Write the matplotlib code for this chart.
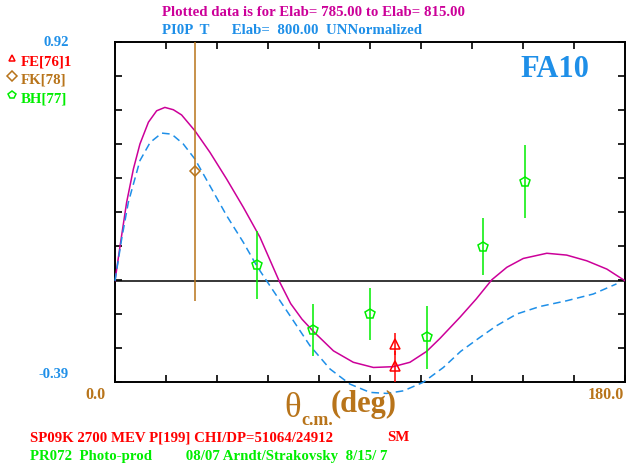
import numpy as np
import matplotlib
matplotlib.use("Agg")
import matplotlib.pyplot as plt

# ------------------------------------------
# Data
# ------------------------------------------
YMIN, YMAX = -0.39, 0.92

# SM solution (solid magenta)
sm_theta = [0, 1.8, 4.1, 6.5, 8.8, 11.8, 14.7, 17.6, 20.6, 23.5, 28.2, 33.5, 39.4,
            45.3, 51.2, 57.9, 62.0, 66.0, 70.0, 77.1, 84.1, 91.2, 98.2, 104.1, 110.0,
            114.7, 121.8, 127.5, 133.0, 138.3, 144.1, 152.4, 159.4, 166.5, 173.6, 180.0]
sm_val = [0.0, 0.135, 0.302, 0.431, 0.527, 0.611, 0.655, 0.668, 0.659, 0.639, 0.578,
          0.495, 0.392, 0.283, 0.167, 0.0, -0.088, -0.148, -0.195, -0.270, -0.314,
          -0.334, -0.331, -0.314, -0.272, -0.222, -0.14, -0.07, 0.004, 0.052, 0.086,
          0.106, 0.099, 0.077, 0.045, 0.0]

# dashed blue solution
sp_theta = [0, 2.35, 4.7, 8.8, 12.4, 16.5, 20.0, 24.1, 28.2, 33.5, 39.4, 45.3, 50.0,
            53.5, 61.8, 68.8, 75.9, 82.9, 90.0, 95.9, 101.8, 108.8, 115.9, 122.0,
            128.8, 134.7, 141.8, 150.0, 159.4, 168.8, 177.0]
sp_val = [0.0, 0.161, 0.302, 0.463, 0.533, 0.569, 0.565, 0.527, 0.469, 0.366, 0.251,
          0.148, 0.058, 0.0, -0.135, -0.250, -0.340, -0.398, -0.430, -0.434, -0.424,
          -0.391, -0.334, -0.272, -0.218, -0.173, -0.128, -0.099, -0.077, -0.051,
          -0.012]

# FE[76]1
fe_theta = [98.8, 98.8]
fe_val = [-0.244, -0.330]
fe_err = [0.041, 0.06]

# FK[78]
fk_theta = [28.4]
fk_val = [0.422]
fk_err = [0.50]

# BH[77]
bh_theta = [50.0, 69.8, 90.0, 110.0, 129.8, 144.8]
bh_val = [0.062, -0.189, -0.128, -0.218, 0.131, 0.382]
bh_err = [0.131, 0.10, 0.10, 0.12, 0.11, 0.14]

MAGENTA = '#CC0099'
BLUE = '#1E8FE8'
BROWN = '#B8741A'
GREEN = '#00EE00'
RED = '#FF0000'

plt.rcParams['font.family'] = ['Liberation Serif', 'DejaVu Serif']
plt.rcParams['font.weight'] = 'bold'

fig = plt.figure(figsize=(6.28, 4.64), dpi=100)
ax = fig.add_axes([115 / 628, 81 / 464, 510 / 628, 340 / 464])
ax.set_xlim(0, 180)
ax.set_ylim(YMIN, YMAX)

ax.axhline(0, color='black', lw=1.1, zorder=1)
ax.plot(sm_theta, sm_val, color=MAGENTA, lw=1.1, zorder=3)
ax.plot(sp_theta, sp_val, color=BLUE, lw=1.1, ls=(0, (5, 3)), zorder=3, clip_on=False)

ax.errorbar(fk_theta, fk_val, yerr=fk_err, fmt='D', mfc='none', mec=BROWN, ms=5.5,
            mew=1.1, ecolor=BROWN, elinewidth=1.1, capsize=0, zorder=4)
ax.errorbar(bh_theta, bh_val, yerr=bh_err, fmt='p', mfc='none', mec=GREEN, ms=7,
            mew=1.1, ecolor=GREEN, elinewidth=1.1, capsize=0, zorder=4)
ax.errorbar(fe_theta, fe_val, yerr=fe_err, fmt='^', mfc='none', mec=RED, ms=7,
            mew=1.1, ecolor=RED, elinewidth=1.1, capsize=0, zorder=5)

ax.set_xticks(np.linspace(0, 180, 11))
ax.set_yticks(np.linspace(YMIN, YMAX, 11))
ax.tick_params(direction='in', length=5, width=1.2, top=True, right=True,
               labelbottom=False, labelleft=False)
for sp in ax.spines.values():
    sp.set_linewidth(1.4)

ax.text(0.931, 0.965, 'FA10', transform=ax.transAxes, color=BLUE, fontsize=22,
        fontweight='bold', ha='right', va='top')

# labels around the axes
fig.text(162 / 628, 1 - 13 / 464, 'Plotted data is for Elab= 785.00 to Elab= 815.00',
         color=MAGENTA, fontsize=10.7, va='center')
fig.text(162 / 628, 1 - 30 / 464, 'PI0P  T      Elab=  800.00  UNNormalized',
         color=BLUE, fontsize=10.7, va='center')
fig.text(69 / 628, 1 - 42 / 464, '0.92', color=BLUE, fontsize=10.5, ha='right', va='center')
fig.text(69 / 628, 1 - 375 / 464, '-0.39', color=BLUE, fontsize=10.5, ha='right', va='center')
fig.text(106 / 628, 1 - 395 / 464, '0.0', color=BROWN, fontsize=11.5, ha='right', va='center')
fig.text(624 / 628, 1 - 395 / 464, '180.0', color=BROWN, fontsize=11.5, ha='right', va='center')

# axis title: theta with c.m. subscript, then (deg)
fig.text(284 / 628, 1 - 417 / 464, '\u03b8', color=BROWN, fontsize=25,
         fontweight='normal', va='baseline')
fig.text(301 / 628, 1 - 425 / 464, 'c.m.', color=BROWN, fontsize=13, va='baseline')
fig.text(331 / 628, 1 - 412 / 464, '(deg)', color=BROWN, fontsize=22, va='baseline')

legend_items = [('^', RED, 'FE[76]1', 62), ('D', BROWN, 'FK[78]', 80),
                ('p', GREEN, 'BH[77]', 99)]
for mk, col, lab, ypx in legend_items:
    fig.lines.append(plt.Line2D([12 / 628], [1 - (ypx - 3) / 464], marker=mk, mfc='none',
                                mec=col, ms=5 if mk != 'p' else 6, mew=1.1,
                                transform=fig.transFigure))
    fig.text(21 / 628, 1 - ypx / 464, lab, color=col, fontsize=10.7, va='center')

fig.text(30 / 628, 1 - 438 / 464, 'SP09K 2700 MEV P[199] CHI/DP=51064/24912',
         color=RED, fontsize=10.7, va='center')
fig.text(387 / 628, 1 - 438 / 464, 'SM', color=RED, fontsize=10.7, va='center')
fig.text(30 / 628, 1 - 457 / 464,
         'PR072  Photo-prod         08/07 Arndt/Strakovsky  8/15/ 7',
         color=GREEN, fontsize=10.7, va='center')

fig.savefig('out.png', dpi=100)
